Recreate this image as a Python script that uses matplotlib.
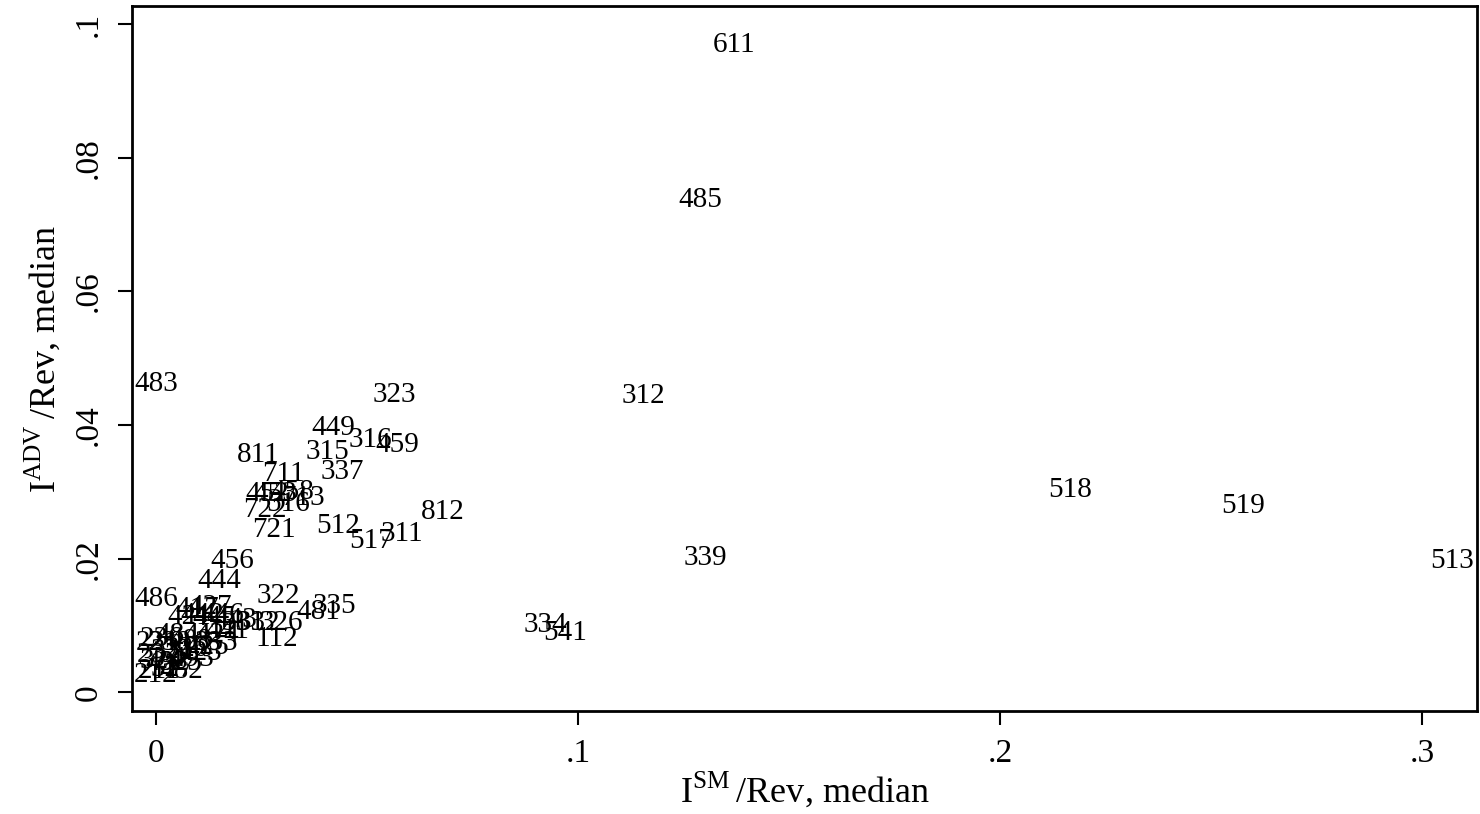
import matplotlib
matplotlib.use('Agg')
import matplotlib.pyplot as plt

plt.rcParams['font.family'] = ['Liberation Serif', 'DejaVu Serif']
plt.rcParams['mathtext.fontset'] = 'custom'
plt.rcParams['mathtext.rm'] = 'Liberation Serif'

# industry codes and medians (I_SM/Rev, I_ADV/Rev)
codes = ['611', '485', '483', '323', '312', '449', '316', '459', '315', '811',
         '711', '337', '452', '453', '458', '713', '722', '516', '721', '518',
         '519', '513', '812', '512', '517', '311', '339', '456', '444', '486',
         '322', '335', '481', '334', '541', '112',
         '417', '427', '421', '442', '445', '446', '443', '441', '424', '331',
         '332', '326', '423', '333', '212', '211', '221', '236', '238', '237',
         '324', '321', '325', '327', '336', '484', '488', '492', '493', '482',
         '425']
sm_rev = [0.1318, 0.1237, -0.0052, 0.0514, 0.1102, 0.0367, 0.0457, 0.0519, 0.0355, 0.0192,
          0.0251, 0.0389, 0.0211, 0.0230, 0.0270, 0.0296, 0.0206, 0.0261, 0.0227, 0.2114,
          0.2524, 0.3019, 0.0628, 0.0379, 0.0457, 0.0533, 0.1249, 0.0128, 0.0097, -0.0052,
          0.0239, 0.0370, 0.0332, 0.0870, 0.0917, 0.0235,
          0.0045, 0.0076, 0.0026, 0.0057, 0.0085, 0.0104, 0.0135, 0.0116, 0.0092, 0.0156,
          0.0190, 0.0246, 0.0052, 0.0092, -0.0052, -0.0043, -0.0047, -0.0038, -0.0019, -0.0045,
          -0.0038, -0.0014, 0.0005, -0.0014, 0.0021, -0.0002, 0.0028, -0.0026, 0.0033, 0.0009,
          0.0069]
adv_rev = [0.0973, 0.0741, 0.0466, 0.0449, 0.0448, 0.0400, 0.0382, 0.0374, 0.0364, 0.0359,
           0.0331, 0.0334, 0.0302, 0.0302, 0.0305, 0.0296, 0.0277, 0.0286, 0.0247, 0.0307,
           0.0283, 0.0201, 0.0275, 0.0254, 0.0231, 0.0241, 0.0205, 0.0201, 0.0171, 0.0144,
           0.0148, 0.0133, 0.0124, 0.0105, 0.0093, 0.0084,
           0.0129, 0.0132, 0.0117, 0.0120, 0.0115, 0.0120, 0.0112, 0.0096, 0.0090, 0.0108,
           0.0108, 0.0108, 0.0063, 0.0078, 0.0030, 0.0036, 0.0078, 0.0084, 0.0078, 0.0060,
           0.0051, 0.0066, 0.0048, 0.0040, 0.0070, 0.0090, 0.0081, 0.0048, 0.0055, 0.0036,
           0.0073]

xticks = [0, 0.1, 0.2, 0.3]
xticklabels = ['0', '.1', '.2', '.3']
yticks = [0, 0.02, 0.04, 0.06, 0.08, 0.1]
yticklabels = ['0', '.02', '.04', '.06', '.08', '.1']

fig = plt.figure(figsize=(14.8, 8.14), dpi=100)
ax = fig.add_axes([0.0892, 0.1265, 0.9088, 0.8661])

for c, x, y in zip(codes, sm_rev, adv_rev):
    ax.text(x, y, c, ha='left', va='center_baseline', fontsize=21, color='black')

ax.set_xlim(-0.0057, 0.313)
ax.set_ylim(-0.0028, 0.1027)

ax.set_xticks(xticks)
ax.set_xticklabels(xticklabels)
ax.set_yticks(yticks)
ax.set_yticklabels(yticklabels, rotation=90, va='center')
ax.tick_params(axis='both', direction='out', length=10, width=1.5, labelsize=24, pad=10)

for s in ax.spines.values():
    s.set_linewidth(2)

ax.set_xlabel(r'I$^{\mathrm{SM}}\,$/Rev, median', fontsize=26, labelpad=0)
ax.set_ylabel(r'I$^{\mathrm{ADV}}\,$/Rev, median', fontsize=26, labelpad=8)

fig.savefig('out.png', dpi=100)
